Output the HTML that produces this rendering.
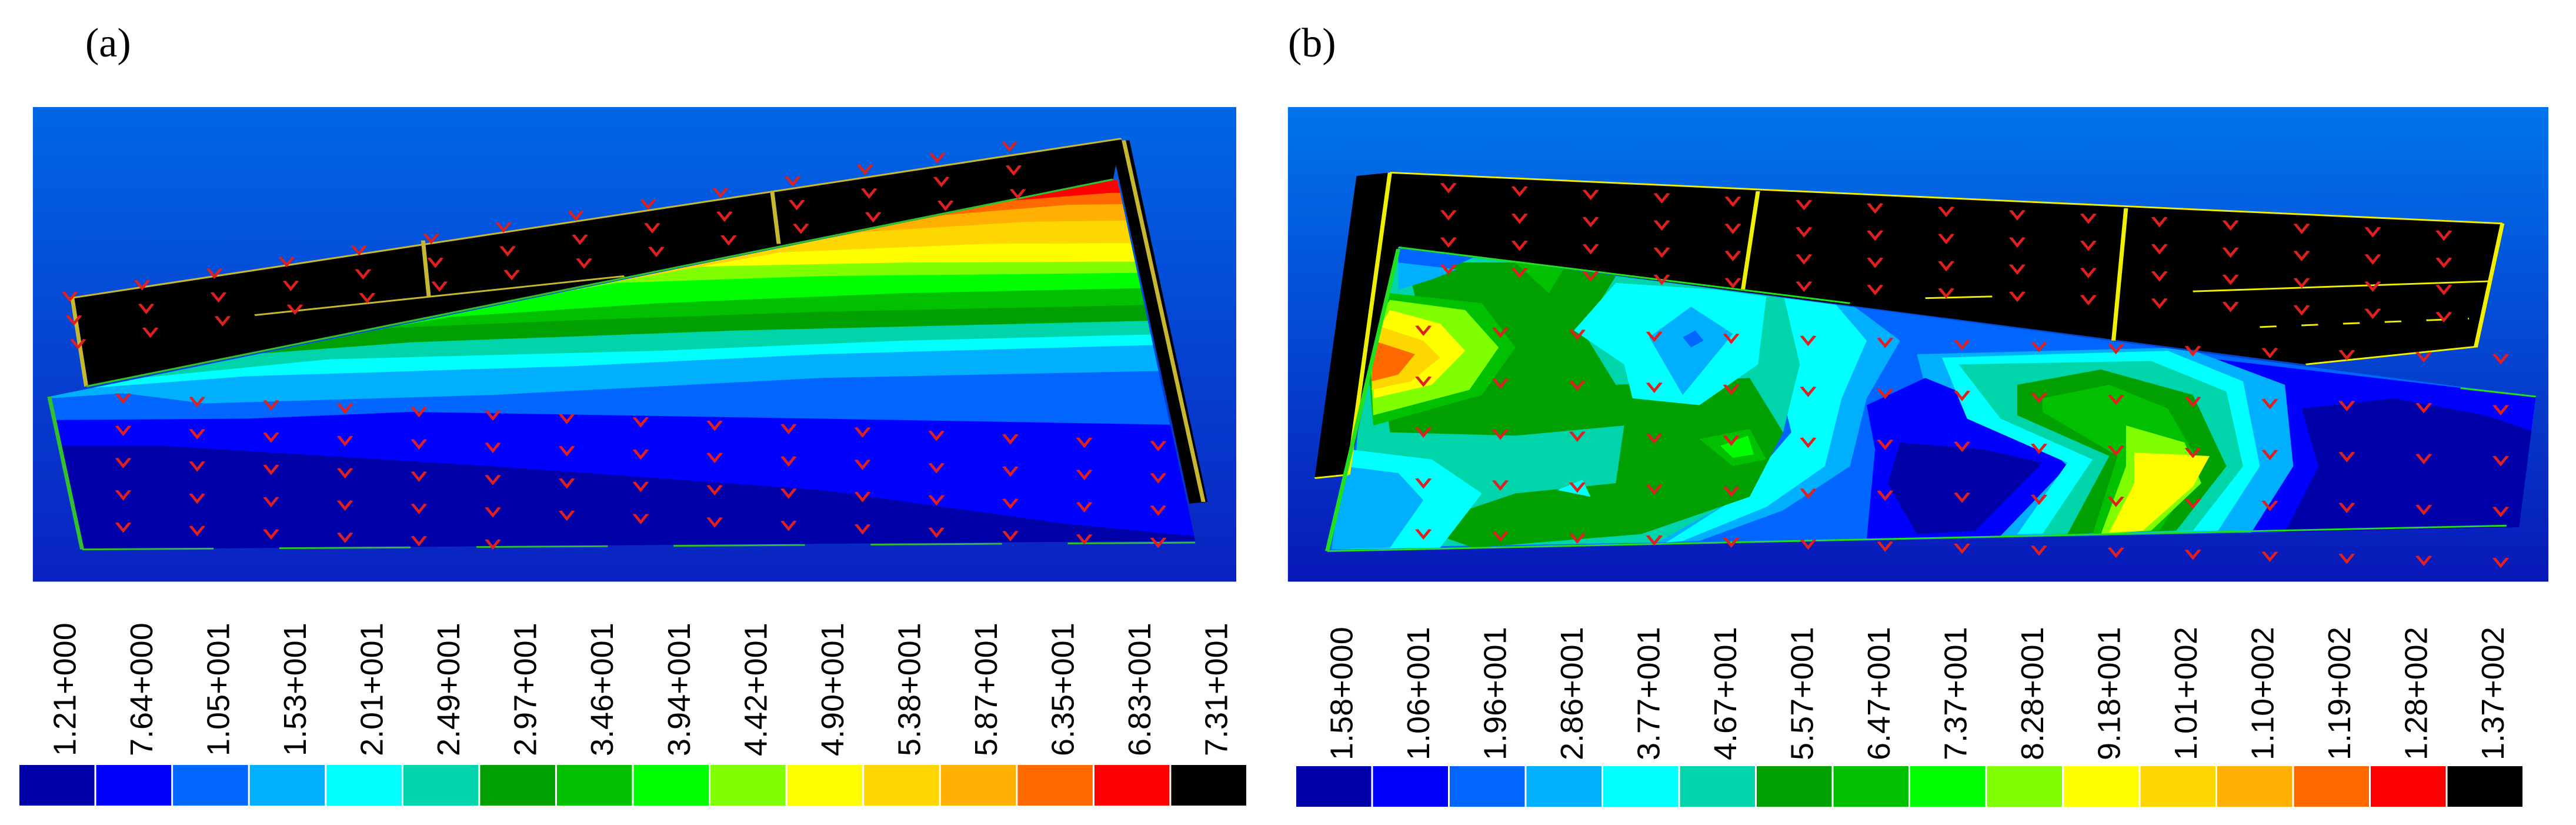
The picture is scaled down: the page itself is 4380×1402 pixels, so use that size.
<!DOCTYPE html>
<html><head><meta charset="utf-8"><style>
html,body{margin:0;padding:0;background:#fff;width:4380px;height:1402px;overflow:hidden}
svg{display:block}
.lbl{font-family:"Liberation Sans",sans-serif;font-size:54px;fill:#000}
.pl{font-family:"Liberation Serif",serif;font-size:70px;fill:#000}
</style></head><body>
<svg id="root" width="4380" height="1402" viewBox="0 0 4380 1402" xmlns="http://www.w3.org/2000/svg">
<defs>
<linearGradient id="bgA" x1="0" y1="0" x2="0" y2="1"><stop offset="0" stop-color="#0066e6"/><stop offset="1" stop-color="#0a22c0"/></linearGradient>
<linearGradient id="bgB" x1="0" y1="0" x2="0" y2="1"><stop offset="0" stop-color="#0074ec"/><stop offset="1" stop-color="#0818b8"/></linearGradient>
<clipPath id="clipA"><polygon points="60,995 1360,355 1455,1420 100,1445"/></clipPath>
<clipPath id="clipB"><polygon points="160,555 1520,995 1500,1380 75,1450"/></clipPath>
</defs>
<text class="pl" x="145" y="96">(a)</text>
<text class="pl" x="2190" y="96">(b)</text>

<svg id="panelA" x="0" y="100" width="2190" height="900" viewBox="0 0 1568 1560" preserveAspectRatio="none">
<rect x="40" y="142" width="1465" height="1398" fill="url(#bgA)"/>
<g id="bandsA" clip-path="url(#clipA)"></g>
<polygon points="85,705 1365,235 1355,355 105,965" fill="#000"/>
<polygon points="1352,240 1375,240 1470,1305 1448,1310" fill="#000"/>
<g stroke="#c8b830" stroke-width="5" fill="none">
<line x1="85" y1="705" x2="1365" y2="235"/><line x1="310" y1="755" x2="760" y2="640"/>
<line x1="515" y1="535" x2="522" y2="700"/><line x1="940" y1="390" x2="948" y2="545"/>
<line x1="88" y1="705" x2="105" y2="965"/><line x1="1368" y1="240" x2="1465" y2="1305"/>
</g>
<g stroke="#30c030" stroke-width="5" fill="none"><line x1="105" y1="965" x2="1355" y2="355"/><line x1="100" y1="1445" x2="1455" y2="1425" stroke-dasharray="160,80"/><line x1="60" y1="995" x2="100" y2="1445"/></g>
<g id="marksA"></g>
</svg>

<svg id="panelB" x="2150" y="100" width="2230" height="900" viewBox="0 0 1568 1560" preserveAspectRatio="none">
<rect x="28" y="142" width="1507" height="1398" fill="url(#bgB)"/>
<g id="bandsB" clip-path="url(#clipB)"></g>
<polygon points="110,345 150,335 1480,485 1450,850 1245,900 160,555 100,1225 60,1235" fill="#000"/>
<g stroke="#f0f000" stroke-width="5" fill="none">
<line x1="150" y1="335" x2="1480" y2="485"/><line x1="1480" y1="485" x2="1448" y2="850"/>
<line x1="1110" y1="685" x2="1465" y2="655"/><line x1="1245" y1="900" x2="1448" y2="848"/>
<line x1="1190" y1="790" x2="1440" y2="765" stroke-dasharray="20,30"/>
<line x1="590" y1="390" x2="572" y2="680"/><line x1="1030" y1="440" x2="1015" y2="830"/>
<line x1="150" y1="335" x2="100" y2="1225"/><line x1="60" y1="1235" x2="100" y2="1225"/>
<line x1="790" y1="705" x2="870" y2="700"/>
</g>
<g stroke="#20e020" stroke-width="5" fill="none"><line x1="160" y1="555" x2="700" y2="720"/><line x1="75" y1="1450" x2="1485" y2="1375"/><line x1="1430" y1="970" x2="1520" y2="995"/><line x1="75" y1="1450" x2="160" y2="560"/></g>
<g id="marksB"></g>
</svg>

<g id="legendA"></g>
<g id="legendB"></g>
</svg>
<script>
const NS="http://www.w3.org/2000/svg";
const legendColors=["#0000a8","#0000ff","#0066ff","#00b0ff","#00ffff","#00d4aa","#00a000","#00c000","#00ff00","#80ff00","#ffff00","#ffd700","#ffb000","#ff6a00","#ff0000","#000000"];
const labelsA=["1.21+000","7.64+000","1.05+001","1.53+001","2.01+001","2.49+001","2.97+001","3.46+001","3.94+001","4.42+001","4.90+001","5.38+001","5.87+001","6.35+001","6.83+001","7.31+001"];
const labelsB=["1.58+000","1.06+001","1.96+001","2.86+001","3.77+001","4.67+001","5.57+001","6.47+001","7.37+001","8.28+001","9.18+001","1.01+002","1.10+002","1.19+002","1.28+002","1.37+002"];

function drawLegend(gid,x0,x1,y0,y1,labels,ly){
  const g=document.getElementById(gid);
  const w=(x1-x0)/labels.length;
  labels.forEach((t,i)=>{
    const r=document.createElementNS(NS,"rect");
    r.setAttribute("x",x0+i*w);r.setAttribute("y",y0);
    r.setAttribute("width",w-3);r.setAttribute("height",y1-y0);
    r.setAttribute("fill",legendColors[i]);
    
    
    g.appendChild(r);
    const tx=document.createElementNS(NS,"text");
    const cx=x0+i*w+w/2+30;
    tx.setAttribute("class","lbl");
    tx.setAttribute("transform","translate("+cx+","+ly+") rotate(-90)");
    tx.textContent=t;
    
    
    g.appendChild(tx);
  });
}
drawLegend("legendA",33,2122,1300,1369,labelsA,1285);
drawLegend("legendB",2204,4292,1302,1371,labelsB,1292);

function poly(g,pts,fill){
  const p=document.createElementNS(NS,"polygon");
  p.setAttribute("points",pts.map(q=>q.join(",")).join(" "));
  p.setAttribute("fill",fill);
  
  
  g.appendChild(p);
}
// Panel a: lower boundaries of each level, painted above
const gA=document.getElementById("bandsA");
poly(gA,[[0,0],[1600,0],[1600,1600],[0,1600]],"#0000a8");
const boundsA=[
 [[0,1140],[200,1140],[600,1200],[1000,1270],[1300,1370],[1600,1440]],
 [[0,1065],[300,1060],[500,1040],[1000,1060],[1600,1085]],
 [[0,1010],[150,985],[250,1015],[600,990],[1000,940],[1600,910]],
 [[0,990],[80,975],[300,935],[700,905],[1000,870],[1600,830]],
 [[0,980],[150,945],[400,885],[800,860],[1100,830],[1600,800]],
 [[0,980],[250,880],[500,835],[900,800],[1600,760]],
 [[0,980],[400,800],[700,770],[1000,745],[1600,715]],
 [[0,980],[550,760],[800,720],[1100,690],[1600,665]],
 [[0,980],[750,660],[1000,640],[1600,625]],
 [[0,980],[850,612],[1100,600],[1600,595]],
 [[0,980],[950,570],[1200,545],[1600,540]],
 [[0,980],[1050,510],[1250,480],[1600,470]],
 [[0,980],[1150,460],[1300,430],[1600,420]],
 [[0,980],[1220,420],[1350,395],[1600,390]]
];
boundsA.forEach((b,i)=>poly(gA,b.concat([[1600,0],[0,0]]),legendColors[i+1]));

// Panel b blobs
const gB=document.getElementById("bandsB");
const blobsB=[
 ["#0066ff",[[0,0],[1600,0],[1600,1600],[0,1600]]],
 ["#0000ff",[[1120,880],[1520,995],[1500,1380],[1180,1395],[1210,1200],[1190,1000]]],
 ["#0000a8",[[1240,1030],[1350,1000],[1460,1050],[1520,1100],[1500,1380],[1220,1395],[1260,1200]]],
 ["#00b0ff",[[780,870],[1100,850],[1220,960],[1230,1200],[1180,1395],[850,1405],[900,1200],[800,1060]]],
 ["#0000ff",[[720,1020],[790,940],[900,1050],[960,1200],[880,1405],[720,1415],[730,1150]]],
 ["#0000a8",[[760,1130],[860,1150],[930,1190],[850,1390],[780,1400],[745,1250]]],
 ["#00ffff",[[810,880],[1080,860],[1170,950],[1190,1200],[1140,1390],[900,1400],[960,1190],[840,1060]]],
 ["#00d4aa",[[830,900],[1060,890],[1150,980],[1170,1200],[1110,1390],[930,1400],[990,1180],[880,1060]]],
 ["#00a000",[[900,960],[1000,915],[1110,990],[1150,1200],[1090,1390],[960,1400],[1010,1170],[900,1050]]],
 ["#00c000",[[930,1000],[1010,960],[1080,1030],[1120,1200],[1070,1390],[990,1400],[1020,1170],[930,1040]]],
 ["#80ff00",[[1030,1080],[1100,1130],[1120,1250],[1060,1390],[1000,1400],[1030,1200]]],
 ["#ffff00",[[1040,1160],[1130,1170],[1110,1260],[1050,1390],[1010,1395],[1040,1250]]],
 ["#00b0ff",[[560,690],[700,720],[760,830],[720,1000],[700,1200],[620,1330],[520,1420],[470,1425],[560,1300],[640,1100],[620,900]]],
 ["#00ffff",[[580,690],[680,715],[720,830],[690,1000],[670,1200],[600,1320],[500,1420],[480,1425],[560,1300],[630,1100],[610,900]]],
 ["#00d4aa",[[160,560],[620,690],[640,900],[620,1100],[560,1300],[470,1425],[100,1440],[115,1000]]],
 ["#00a000",[[170,600],[330,600],[420,640],[380,800],[420,960],[580,940],[620,1100],[580,1290],[450,1400],[250,1440],[180,1380],[300,1280],[420,1250],[430,1080],[300,1110],[150,1100],[140,900],[180,700]]],
 ["#00c000",[[520,1120],[580,1090],[600,1180],[560,1200]]],
 ["#00ff00",[[545,1140],[578,1110],[585,1165],[560,1175]]],
 ["#00c000",[[300,600],[360,610],[340,690]]],
 ["#00ffff",[[370,800],[420,660],[540,680],[600,700],[590,900],[520,1020],[440,1000],[430,900]]],
 ["#00b0ff",[[460,820],[510,730],[560,810],[500,990]]],
 ["#0066ff",[[500,820],[515,800],[525,830],[510,850]]],
 ["#00c000",[[150,690],[260,720],[300,850],[260,990],[130,1080],[120,800]]],
 ["#80ff00",[[150,710],[240,740],[280,850],[245,975],[130,1050],[125,800]]],
 ["#ffff00",[[150,740],[210,780],[240,860],[200,960],[130,1000],[135,800]]],
 ["#ffd700",[[140,790],[190,830],[210,880],[175,950],[128,975]]],
 ["#ff6a00",[[130,830],[180,870],[160,930],[128,950]]],
 ["#00ffff",[[100,1150],[200,1180],[260,1280],[210,1440],[85,1445]]],
 ["#00b0ff",[[95,1200],[160,1220],[190,1300],[150,1440],[80,1445]]],
 ["#00ffff",[[350,1270],[380,1240],[390,1290]]],
 ["#0066ff",[[160,555],[250,585],[200,640],[160,660]]],
 ["#00b0ff",[[160,600],[230,620],[200,650],[160,680]]]
];
blobsB.forEach(b=>poly(gB,b[1],b[0]));

// decorative red load markers
function marks(gid,pts){
  const g=document.getElementById(gid);
  pts.forEach(q=>{
    const p=document.createElementNS(NS,"path");
    p.setAttribute("d","M"+(q[0]-8)+","+(q[1]-14)+" L"+q[0]+","+(q[1]+10)+" L"+(q[0]+8)+","+(q[1]-14));
    p.setAttribute("stroke","#e02020");p.setAttribute("stroke-width","4");p.setAttribute("fill","none");
    
    
    g.appendChild(p);
  });
}
const mA=[];
for(let r=0;r<6;r++){for(let c=0;c<15;c++){const x=150+c*90;const y=1000+r*95+c*10;if(y<1440&&y>990-c*30)mA.push([x,y]);}}
for(let c=0;c<14;c++){const x=85+c*88;for(let k=0;k<3;k++){mA.push([x+5*k,700-c*34+k*70]);}}
marks("marksA",mA);
const mB=[];
for(let r=0;r<5;r++){for(let c=0;c<15;c++){mB.push([190+c*92,800+r*150+c*6]);}}
for(let c=0;c<15;c++){for(let k=0;k<4;k++){mB.push([220+c*85,380+c*10+k*80]);}}
marks("marksB",mB);
</script>
</body></html>
